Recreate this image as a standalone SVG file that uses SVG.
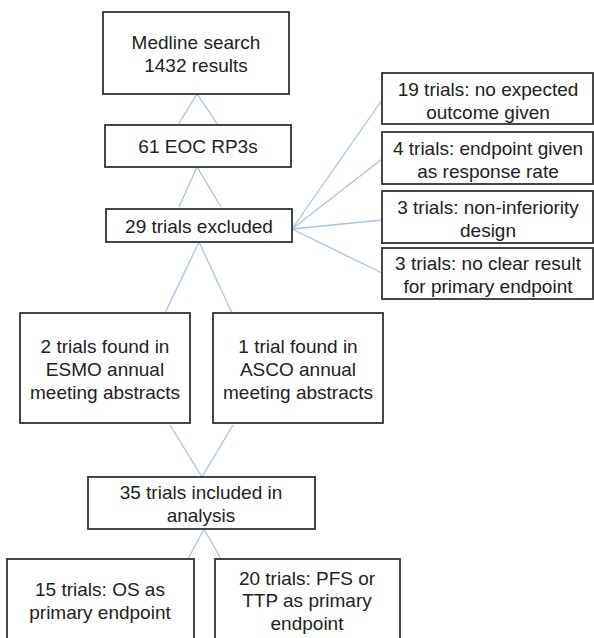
<svg xmlns="http://www.w3.org/2000/svg" width="594" height="638" viewBox="0 0 594 638">
<style>
.box{fill:#fff;stroke:#333;stroke-width:1.8}
.t{font-family:"Liberation Sans",Arial,sans-serif;font-size:19px;fill:#222;text-anchor:middle}
.c{stroke:#a9c4e2;stroke-width:1.3;fill:none}
</style>
<rect width="594" height="638" fill="#fff"/>
<g id="connectors">
<polyline class="c" points="178,125 197,94 218,125"/>
<polyline class="c" points="179,207 197,167 221,207"/>
<line class="c" x1="292" y1="229" x2="382" y2="100"/>
<line class="c" x1="292" y1="229" x2="382" y2="159"/>
<line class="c" x1="292" y1="229" x2="382" y2="220"/>
<line class="c" x1="292" y1="229" x2="382" y2="273"/>
<polyline class="c" points="165,313 199,242 232,313"/>
<polyline class="c" points="170,425 202,477 233,425"/>
<polyline class="c" points="188,559 204,529 221,559"/>
</g>
<g id="medline"><rect class="box" x="103" y="12" width="186" height="82"/>
<text class="t" x="196" y="49">Medline search</text><text class="t" x="196" y="72">1432 results</text></g>
<g id="eoc"><rect class="box" x="105" y="125" width="186" height="42"/>
<text class="t" x="198" y="153">61 EOC RP3s</text></g>
<g id="excluded"><rect class="box" x="106" y="209" width="186" height="33"/>
<text class="t" x="199" y="233">29 trials excluded</text></g>
<g id="ex1"><rect class="box" x="382" y="73" width="211" height="51"/>
<text class="t" x="488" y="96">19 trials: no expected</text><text class="t" x="488" y="119">outcome given</text></g>
<g id="ex2"><rect class="box" x="382" y="132" width="211" height="52"/>
<text class="t" x="488" y="155">4 trials: endpoint given</text><text class="t" x="488" y="178">as response rate</text></g>
<g id="ex3"><rect class="box" x="382" y="191" width="211" height="52"/>
<text class="t" x="488" y="214">3 trials: non-inferiority</text><text class="t" x="488" y="237">design</text></g>
<g id="ex4"><rect class="box" x="382" y="248" width="211" height="51"/>
<text class="t" x="488" y="270">3 trials: no clear result</text><text class="t" x="488" y="293">for primary endpoint</text></g>
<g id="esmo"><rect class="box" x="20" y="313" width="170" height="110"/>
<text class="t" x="105" y="353">2 trials found in</text><text class="t" x="105" y="376">ESMO annual</text><text class="t" x="105" y="399">meeting abstracts</text></g>
<g id="asco"><rect class="box" x="213" y="313" width="170" height="110"/>
<text class="t" x="298" y="353">1 trial found in</text><text class="t" x="298" y="376">ASCO annual</text><text class="t" x="298" y="399">meeting abstracts</text></g>
<g id="included"><rect class="box" x="88" y="477" width="227" height="52"/>
<text class="t" x="201" y="499">35 trials included in</text><text class="t" x="201" y="522">analysis</text></g>
<g id="os"><rect class="box" x="7" y="559" width="187" height="100"/>
<text class="t" x="100" y="596">15 trials: OS as</text><text class="t" x="100" y="619">primary endpoint</text></g>
<g id="pfs"><rect class="box" x="215" y="559" width="185" height="100"/>
<text class="t" x="307" y="585">20 trials: PFS or</text><text class="t" x="307" y="607">TTP as primary</text><text class="t" x="307" y="630">endpoint</text></g>
</svg>
